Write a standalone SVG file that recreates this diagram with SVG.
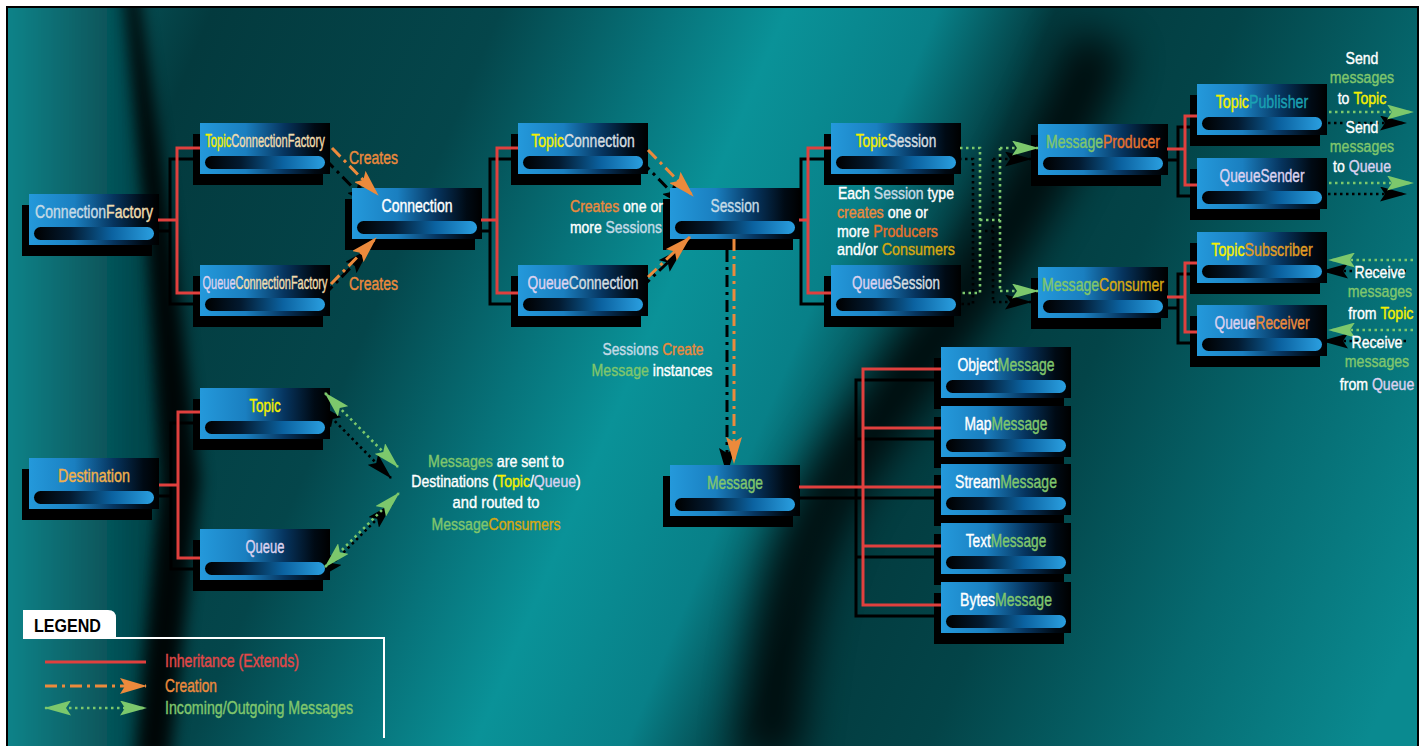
<svg xmlns="http://www.w3.org/2000/svg" width="1425" height="746" viewBox="0 0 1425 746">
<defs>
<style>
.sh{fill:#000}
.bx{fill:url(#gbox)}
.pl{fill:url(#gpill)}
text{font-family:"Liberation Sans",Arial,sans-serif;font-size:18px;stroke-width:0.4}
.a{font-size:17px}
.nl{text-anchor:middle}
.c{text-anchor:middle}
.y{fill:#f4f000;stroke:#f4f000}.bg{fill:#f0dcae;stroke:#f0dcae}.lv{fill:#dcd2f0;stroke:#dcd2f0}.lb{fill:#c4dae6;stroke:#c4dae6}.lg{fill:#d4dde0;stroke:#d4dde0}
.gr{fill:#80c66c;stroke:#80c66c}.or{fill:#ec8a3c;stroke:#ec8a3c}.orr{fill:#e8722c;stroke:#e8722c}.gd{fill:#d6a812;stroke:#d6a812}.gd2{fill:#e09c22;stroke:#e09c22}
.tl{fill:#1aa0b2;stroke:#1aa0b2}.w{fill:#fff;stroke:#fff}.rd{fill:#e24848;stroke:#e24848}.ds{fill:#f0b04c;stroke:#f0b04c}
.inh{fill:none;stroke:#e0403e;stroke-width:3}
.inhs{fill:none;stroke:#000;stroke-width:3}
.cre{fill:none;stroke:#ec8a3c;stroke-width:3;stroke-dasharray:12 5 3 5;marker-end:url(#ao)}
.cres{fill:none;stroke:#000;stroke-width:3;stroke-dasharray:12 5 3 5;marker-end:url(#ak)}
.msg{fill:none;stroke:#7cc86c;stroke-width:2.6;stroke-dasharray:2.5 3.5}
.msgs{fill:none;stroke:#000;stroke-width:2.6;stroke-dasharray:2.5 3.5}
.me{marker-end:url(#ag)}
.mb{marker-start:url(#ag);marker-end:url(#ag)}
.mek{marker-end:url(#agk)}
.mbk{marker-start:url(#agk);marker-end:url(#agk)}
</style>
<linearGradient id="gbox" x1="0" y1="0" x2="1" y2="0">
<stop offset="0" stop-color="#2499db"/><stop offset="0.35" stop-color="#1a7fc0"/><stop offset="0.65" stop-color="#06345e"/><stop offset="0.88" stop-color="#000a14"/><stop offset="1" stop-color="#000"/>
</linearGradient>
<linearGradient id="gpill" x1="0" y1="0" x2="1" y2="0">
<stop offset="0" stop-color="#000"/><stop offset="0.3" stop-color="#031a30"/><stop offset="0.65" stop-color="#0b62a0"/><stop offset="1" stop-color="#2a9fe0"/>
</linearGradient>
<linearGradient id="gbg" gradientUnits="userSpaceOnUse" x1="0" y1="0" x2="1426" y2="605">
<stop offset="0" stop-color="#0a6c72"/><stop offset="0.129" stop-color="#033a3e"/><stop offset="0.30" stop-color="#04464b"/><stop offset="0.40" stop-color="#07737a"/><stop offset="0.47" stop-color="#0a9298"/><stop offset="0.56" stop-color="#088088"/><stop offset="0.63" stop-color="#033a3e"/><stop offset="0.74" stop-color="#034448"/><stop offset="0.87" stop-color="#066a70"/><stop offset="1" stop-color="#0a8a90"/>
</linearGradient>
<linearGradient id="gleft" gradientUnits="userSpaceOnUse" x1="8" y1="0" x2="140" y2="0">
<stop offset="0" stop-color="#0b8389"/><stop offset="1" stop-color="#05464b"/>
</linearGradient>
<filter id="b20" filterUnits="userSpaceOnUse" x="-100" y="-100" width="1625" height="946"><feGaussianBlur stdDeviation="20"/></filter>
<filter id="b8" filterUnits="userSpaceOnUse" x="-100" y="-100" width="1625" height="946"><feGaussianBlur stdDeviation="8"/></filter>
<filter id="b6" filterUnits="userSpaceOnUse" x="-100" y="-100" width="1625" height="946"><feGaussianBlur stdDeviation="6"/></filter>
<clipPath id="frame"><rect x="8" y="8" width="1410" height="738"/></clipPath>
<marker id="ao" markerUnits="userSpaceOnUse" markerWidth="27" markerHeight="16" viewBox="0 0 27 16" refX="26" refY="8" orient="auto"><path d="M0,0 L27,8 L0,16 L5,8 Z" fill="#ec8a3c"/></marker>
<marker id="ak" markerUnits="userSpaceOnUse" markerWidth="27" markerHeight="16" viewBox="0 0 27 16" refX="26" refY="8" orient="auto"><path d="M0,0 L27,8 L0,16 L5,8 Z" fill="#000"/></marker>
<marker id="ag" markerUnits="userSpaceOnUse" markerWidth="27" markerHeight="15" viewBox="0 0 27 15" refX="26" refY="7.5" orient="auto-start-reverse"><path d="M0,0 L27,7.5 L0,15 L5,7.5 Z" fill="#7cc86c"/></marker>
<marker id="agk" markerUnits="userSpaceOnUse" markerWidth="27" markerHeight="15" viewBox="0 0 27 15" refX="26" refY="7.5" orient="auto-start-reverse"><path d="M0,0 L27,7.5 L0,15 L5,7.5 Z" fill="#000"/></marker>
<g id="nb"><rect class="sh" x="-7" y="11" width="130" height="51"/><rect class="bx" width="130" height="51"/><rect class="pl" x="5" y="33" width="120" height="13" rx="6.5"/></g>
</defs>

<rect width="1425" height="746" fill="#fff"/>
<g id="background" clip-path="url(#frame)">
<rect x="8" y="8" width="1410" height="738" fill="url(#gbg)"/>
<path d="M-60,-60 H122 L148,250 L160,480 L136,800 H-60 Z" fill="url(#gleft)" filter="url(#b6)"/>
<path d="M124,-10 L148,250 L160,480 L135,760 L170,760 L200,480 L174,250 L138,-10 Z" fill="#000" opacity="0.9" filter="url(#b8)"/>
<path d="M1100,40 C1040,200 950,320 870,430 S785,600 768,760" stroke="#000" stroke-width="60" opacity="0.8" fill="none" filter="url(#b20)"/>
</g>
<path d="M7,746 V7 H1418 V746" fill="none" stroke="#000" stroke-width="2"/>

<g id="connector-shadows" transform="translate(-7,11)">
<path class="inhs" d="M158,220 H177 M200,148 H177 V293 H200"/>
<path class="inhs" d="M481,220 H497 M518,148 H497 V293 H518"/>
<path class="inhs" d="M799,220 H808 M831,148 H808 V293 H831"/>
<path class="inhs" d="M1167,149 H1185 M1197,116 H1185 V185 H1197"/>
<path class="inhs" d="M1167,297 H1185 M1197,263 H1185 V332 H1197"/>
<path class="inhs" d="M159,485 H178 M200,412 H178 V558 H200"/>
<path class="inhs" d="M799,487 H941 M941,369 H863 V605 H941 M863,428 H941 M863,546 H941"/>
<path class="cres" d="M332,148 L378,195"/>
<path class="cres" d="M331,284 L376,238"/>
<path class="cres" d="M648,150 L693,196"/>
<path class="cres" d="M648,277 L690,237"/>
<path class="cres" d="M734,239 V463"/>
<path class="msgs" d="M960,148 H980 V293 H960 M980,220 H1000 M1000,148 V291"/>
<path class="msgs mek" d="M1000,148 H1038"/>
<path class="msgs mek" d="M1000,291 H1038"/>
<path class="msgs mek" d="M1329,112 H1413"/>
<path class="msgs mek" d="M1329,183 H1413"/>
<path class="msgs mek" d="M1413,260 H1329"/>
<path class="msgs mek" d="M1413,330 H1329"/>
<path class="msgs mbk" d="M325,393 L398,467"/>
<path class="msgs mbk" d="M325,567 L399,493"/>
</g>

<g id="n-connectionfactory"><use href="#nb" x="29" y="194"/><text class="nl" transform="translate(94,218) scale(0.781,1)"><tspan class="lb">Connection</tspan><tspan class="bg">Factory</tspan></text></g>
<g id="n-topicconnectionfactory"><use href="#nb" x="200" y="123"/><text class="nl" transform="translate(265,147) scale(0.62,1)"><tspan class="y">Topic</tspan><tspan class="bg">ConnectionFactory</tspan></text></g>
<g id="n-queueconnectionfactory"><use href="#nb" x="200" y="265"/><text class="nl" transform="translate(265,289) scale(0.609,1)"><tspan class="lv">Queue</tspan><tspan class="bg">ConnectionFactory</tspan></text></g>
<g id="n-connection"><use href="#nb" x="352" y="188"/><text class="nl w" transform="translate(417,212) scale(0.78,1)">Connection</text></g>
<g id="n-topicconnection"><use href="#nb" x="518" y="123"/><text class="nl" transform="translate(583,147) scale(0.777,1)"><tspan class="y">Topic</tspan><tspan class="lg">Connection</tspan></text></g>
<g id="n-queueconnection"><use href="#nb" x="518" y="265"/><text class="nl" transform="translate(583,289) scale(0.765,1)"><tspan class="lv">Queue</tspan><tspan class="lg">Connection</tspan></text></g>
<g id="n-session"><use href="#nb" x="670" y="188"/><text class="nl lb" transform="translate(735,212) scale(0.765,1)">Session</text></g>
<g id="n-topicsession"><use href="#nb" x="831" y="123"/><text class="nl" transform="translate(896,147) scale(0.759,1)"><tspan class="y">Topic</tspan><tspan class="lg">Session</tspan></text></g>
<g id="n-queuesession"><use href="#nb" x="831" y="265"/><text class="nl" transform="translate(896,289) scale(0.745,1)"><tspan class="lv">Queue</tspan><tspan class="lg">Session</tspan></text></g>
<g id="n-messageproducer"><use href="#nb" x="1038" y="124"/><text class="nl" transform="translate(1103,148) scale(0.78,1)"><tspan class="gr">Message</tspan><tspan class="orr">Producer</tspan></text></g>
<g id="n-messageconsumer"><use href="#nb" x="1038" y="267"/><text class="nl" transform="translate(1103,291) scale(0.782,1)"><tspan class="gr">Message</tspan><tspan class="gd">Consumer</tspan></text></g>
<g id="n-topicpublisher"><use href="#nb" x="1197" y="84"/><text class="nl" transform="translate(1262,108) scale(0.79,1)"><tspan class="y">Topic</tspan><tspan class="tl">Publisher</tspan></text></g>
<g id="n-queuesender"><use href="#nb" x="1197" y="158"/><text class="nl lv" transform="translate(1262,182) scale(0.758,1)">QueueSender</text></g>
<g id="n-topicsubscriber"><use href="#nb" x="1197" y="232"/><text class="nl" transform="translate(1262,256) scale(0.792,1)"><tspan class="y">Topic</tspan><tspan class="gd2">Subscriber</tspan></text></g>
<g id="n-queuereceiver"><use href="#nb" x="1197" y="305"/><text class="nl" transform="translate(1262,329) scale(0.76,1)"><tspan class="lv">Queue</tspan><tspan class="or">Receiver</tspan></text></g>
<g id="n-destination"><use href="#nb" x="29" y="458"/><text class="nl ds" transform="translate(94,482) scale(0.8,1)">Destination</text></g>
<g id="n-topic"><use href="#nb" x="200" y="388"/><text class="nl y" transform="translate(265,412) scale(0.75,1)">Topic</text></g>
<g id="n-queue"><use href="#nb" x="200" y="529"/><text class="nl lv" transform="translate(265,553) scale(0.722,1)">Queue</text></g>
<g id="n-message"><use href="#nb" x="670" y="465"/><text class="nl gr" transform="translate(735,489) scale(0.767,1)">Message</text></g>
<g id="n-objectmessage"><use href="#nb" x="941" y="347"/><text class="nl" transform="translate(1006,371) scale(0.776,1)"><tspan class="w">Object</tspan><tspan class="gr">Message</tspan></text></g>
<g id="n-mapmessage"><use href="#nb" x="941" y="406"/><text class="nl" transform="translate(1006,430) scale(0.768,1)"><tspan class="w">Map</tspan><tspan class="gr">Message</tspan></text></g>
<g id="n-streammessage"><use href="#nb" x="941" y="464"/><text class="nl" transform="translate(1006,488) scale(0.778,1)"><tspan class="w">Stream</tspan><tspan class="gr">Message</tspan></text></g>
<g id="n-textmessage"><use href="#nb" x="941" y="523"/><text class="nl" transform="translate(1006,547) scale(0.759,1)"><tspan class="w">Text</tspan><tspan class="gr">Message</tspan></text></g>
<g id="n-bytesmessage"><use href="#nb" x="941" y="582"/><text class="nl" transform="translate(1006,606) scale(0.779,1)"><tspan class="w">Bytes</tspan><tspan class="gr">Message</tspan></text></g>

<g id="connectors">
<path class="inh" d="M158,220 H177 M200,148 H177 V293 H200"/>
<path class="inh" d="M481,220 H497 M518,148 H497 V293 H518"/>
<path class="inh" d="M799,220 H808 M831,148 H808 V293 H831"/>
<path class="inh" d="M1167,149 H1185 M1197,116 H1185 V185 H1197"/>
<path class="inh" d="M1167,297 H1185 M1197,263 H1185 V332 H1197"/>
<path class="inh" d="M159,485 H178 M200,412 H178 V558 H200"/>
<path class="inh" d="M799,487 H941 M941,369 H863 V605 H941 M863,428 H941 M863,546 H941"/>
<path class="cre" d="M332,148 L378,195"/>
<path class="cre" d="M331,284 L376,238"/>
<path class="cre" d="M648,150 L693,196"/>
<path class="cre" d="M648,277 L690,237"/>
<path class="cre" d="M734,239 V463"/>
<path class="msg" d="M960,148 H980 V293 H960 M980,220 H1000 M1000,148 V291"/>
<path class="msg me" d="M1000,148 H1038"/>
<path class="msg me" d="M1000,291 H1038"/>
<path class="msg me" d="M1329,112 H1413"/>
<path class="msg me" d="M1329,183 H1413"/>
<path class="msg me" d="M1413,260 H1329"/>
<path class="msg me" d="M1413,330 H1329"/>
<path class="msg mb" d="M325,393 L398,467"/>
<path class="msg mb" d="M325,567 L399,493"/>
</g>

<g id="annotations">
<text class="or" transform="translate(349,164) scale(0.778,1)">Creates</text>
<text class="or" transform="translate(349,290) scale(0.778,1)">Creates</text>
<text class="a" transform="translate(570,212) scale(0.827,1)"><tspan class="or">Creates</tspan><tspan class="w"> one or</tspan></text>
<text class="a" transform="translate(570,233) scale(0.818,1)"><tspan class="w">more </tspan><tspan class="lb">Sessions</tspan></text>
<text class="a" transform="translate(838,199) scale(0.824,1)"><tspan class="w">Each </tspan><tspan class="lb">Session</tspan><tspan class="w"> type</tspan></text>
<text class="a" transform="translate(837,218) scale(0.838,1)"><tspan class="or">creates</tspan><tspan class="w"> one or</tspan></text>
<text class="a" transform="translate(837,237) scale(0.835,1)"><tspan class="w">more </tspan><tspan class="orr">Producers</tspan></text>
<text class="a" transform="translate(837,255) scale(0.844,1)"><tspan class="w">and/or </tspan><tspan class="gd">Consumers</tspan></text>
<text class="a c" transform="translate(653,355) scale(0.81,1)"><tspan class="lb">Sessions </tspan><tspan class="or">Create</tspan></text>
<text class="a c" transform="translate(652,376) scale(0.831,1)"><tspan class="gr">Message</tspan><tspan class="w"> instances</tspan></text>
<text class="a c" transform="translate(496,467) scale(0.836,1)"><tspan class="gr">Messages</tspan><tspan class="w"> are sent to</tspan></text>
<text class="a c" transform="translate(496,487) scale(0.827,1)"><tspan class="w">Destinations (</tspan><tspan class="y">Topic</tspan><tspan class="w">/</tspan><tspan class="lv">Queue</tspan><tspan class="w">)</tspan></text>
<text class="a c w" transform="translate(496,508) scale(0.868,1)">and routed to</text>
<text class="a c" transform="translate(496,530) scale(0.828,1)"><tspan class="gr">Message</tspan><tspan class="gd">Consumers</tspan></text>
<text class="a c" transform="translate(1362,64) scale(0.83,1)"><tspan class="w" x="0" y="0">Send</tspan><tspan class="gr" x="0" y="19.5">messages</tspan><tspan x="0" y="40"><tspan class="w">to </tspan><tspan class="y">Topic</tspan></tspan></text>
<text class="a c" transform="translate(1362,133) scale(0.83,1)"><tspan class="w" x="0" y="0">Send</tspan><tspan class="gr" x="0" y="19.5">messages</tspan><tspan x="0" y="39"><tspan class="w">to </tspan><tspan class="lv">Queue</tspan></tspan></text>
<text class="a c" transform="translate(1380,278) scale(0.83,1)"><tspan class="w" x="0" y="0">Receive</tspan><tspan class="gr" x="0" y="19.5">messages</tspan><tspan x="1" y="41"><tspan class="w">from </tspan><tspan class="y">Topic</tspan></tspan></text>
<text class="a c" transform="translate(1377,348) scale(0.83,1)"><tspan class="w" x="0" y="0">Receive</tspan><tspan class="gr" x="0" y="19.5">messages</tspan><tspan x="0" y="42"><tspan class="w">from </tspan><tspan class="lv">Queue</tspan></tspan></text>
</g>

<g id="legend">
<path d="M23,638 V610 H108 Q116,610 116,618 V638 Z" fill="#fff"/>
<path d="M23,638 H384 V738" fill="none" stroke="#fff" stroke-width="2"/>
<text font-weight="bold" fill="#000" transform="translate(34,632) scale(0.893,1)">LEGEND</text>
<path class="inh" d="M45,662 H146"/>
<path class="cre" d="M45,686 H146"/>
<path class="msg mb" d="M45,708 H146"/>
<text class="rd" transform="translate(165,667) scale(0.783,1)">Inheritance (Extends)</text>
<text class="or" transform="translate(165,692) scale(0.765,1)">Creation</text>
<text class="gr" transform="translate(165,714) scale(0.79,1)">Incoming/Outgoing Messages</text>
</g>
</svg>
